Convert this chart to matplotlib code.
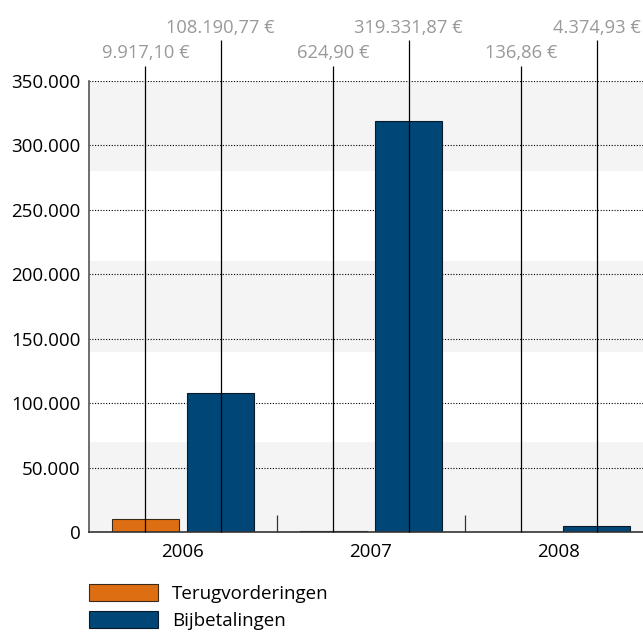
import numpy as np
import matplotlib.pyplot as plt
from matplotlib.patches import Patch

plt.rcParams['font.family'] = ['Open Sans', 'DejaVu Sans']

# data
years = ["2006", "2007", "2008"]
terug = [9917.10, 624.90, 136.86]
bijbet = [108190.77, 319331.87, 4374.93]
terug_labels = ["9.917,10 €", "624,90 €", "136,86 €"]
bijbet_labels = ["108.190,77 €", "319.331,87 €", "4.374,93 €"]
yticks = [0, 50000, 100000, 150000, 200000, 250000, 300000, 350000]
ytick_labels = ["0", "50.000", "100.000", "150.000", "200.000", "250.000", "300.000", "350.000"]

ORANGE = "#DE6E12"
BLUE = "#004677"
GREY = "#999999"

fig = plt.figure(figsize=(6.43, 6.32), dpi=100)
ax = fig.add_axes([89 / 643, 100 / 632, 554 / 643, 451 / 632])

x = np.arange(len(years))
w = 0.36
off = 0.2

# alternating background bands
for lo in [0, 140000, 280000]:
    ax.axhspan(lo, lo + 70000, color="#f4f4f4", zorder=0, lw=0)

# dotted gridlines
for t in yticks[1:]:
    ax.axhline(t, color="black", lw=0.8, ls=(0, (1, 1.5)), zorder=1)

ax.bar(x - off, terug, w, color=ORANGE, edgecolor="#3a2a1a", lw=0.8, zorder=2)
ax.bar(x + off, bijbet, w, color=BLUE, edgecolor="#0a1a2a", lw=0.8, zorder=2)

# leader lines with value labels above the plot
for i in range(len(years)):
    ax.vlines(x[i] - off, 0, 361500, color="black", lw=0.9, zorder=3, clip_on=False)
    ax.vlines(x[i] + off, 0, 381500, color="black", lw=0.9, zorder=3, clip_on=False)
    ax.text(x[i] - off, 371500, terug_labels[i], ha="center", va="center",
            color=GREY, fontsize=13.2)
    ax.text(x[i] + off, 391500, bijbet_labels[i], ha="center", va="center",
            color=GREY, fontsize=13.2)

ax.set_xlim(-0.5, -0.5 + 554 / 188)
ax.set_ylim(0, 350000)
ax.set_yticks(yticks)
ax.set_yticklabels(ytick_labels, fontsize=13.5)
ax.set_xticks(x)
ax.set_xticklabels(years, fontsize=13.5)
ax.set_xticks([0.5, 1.5], minor=True)
ax.tick_params(axis="y", which="major", length=0, pad=6)
ax.tick_params(axis="x", which="major", length=0, pad=8)
ax.tick_params(axis="x", which="minor", direction="in", length=12, width=0.9, color="#333333")

for s in ["top", "right"]:
    ax.spines[s].set_visible(False)
ax.spines["left"].set_color("#555555")
ax.spines["left"].set_linewidth(1.2)
ax.spines["bottom"].set_color("#333333")
ax.spines["bottom"].set_linewidth(1.2)
ax.set_facecolor("white")

handles = [Patch(facecolor=ORANGE, edgecolor="#3a2a1a", lw=0.8),
           Patch(facecolor=BLUE, edgecolor="#0a1a2a", lw=0.8)]
fig.legend(handles, ["Terugvorderingen", "Bijbetalingen"], loc="upper left",
           bbox_to_anchor=(85 / 643, 1 - 580 / 632), frameon=False, fontsize=13.5,
           handlelength=3.7, handleheight=1.0, handletextpad=0.75, labelspacing=0.45,
           borderpad=0.2, borderaxespad=0)

fig.savefig("out.png", dpi=100)
